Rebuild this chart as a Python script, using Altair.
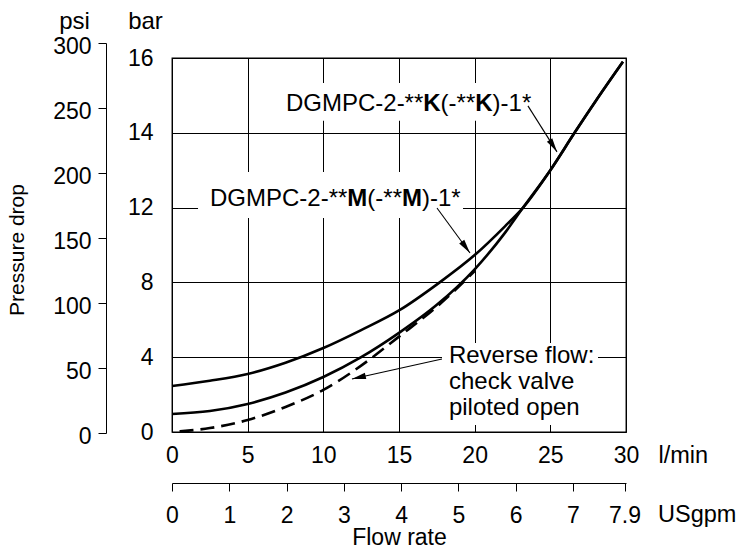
import altair as alt
import pandas as pd

# ---------------- data (flow in l/min, pressure drop in bar as read on the printed bar scale)
m_flow = [0, 2.5, 5, 7.5, 10, 12.5, 15, 17.6, 20, 22, 23.2, 25, 26.6, 28, 29.8]
m_bar = [2.46, 2.74, 3.10, 3.70, 4.49, 5.45, 6.5, 7.95, 9.46, 11.0, 12.0, 13.0, 14.0, 14.85, 15.9]
k_flow = [0, 2.5, 5, 7.5, 10, 12.5, 15, 17.5, 20, 22, 23.2, 25, 26.6, 28, 29.8]
k_bar = [0.96, 1.12, 1.50, 2.11, 2.94, 4.0, 5.3, 6.8, 8.7, 10.65, 12.0, 13.0, 14.0, 14.85, 15.9]
r_flow = [0.5, 2.5, 5, 7.5, 10, 12.5, 15, 17.5, 20]
r_bar = [0.03, 0.21, 0.64, 1.34, 2.25, 3.55, 5.1, 6.7, 8.6]

lmin_ticks = [0, 5, 10, 15, 20, 25, 30]
bar_ticks = [0, 4, 8, 12, 14, 16]
psi_ticks = [0, 50, 100, 150, 200, 250, 300]
gpm_ticks = [0, 1, 2, 3, 4, 5, 6, 7, 7.9]
LMIN_PER_GPM = 3.785

# annotations (data units)
label_parts = [["DGMPC-2-**", "K", "(-**", "K", ")-1*"],
               ["DGMPC-2-**", "M", "(-**", "M", ")-1*"]]
label_x = [7.53, 2.51]
label_bar = [14.58, 12.05]
rev_lines = ["Reverse flow:", "check valve", "piloted open"]
rev_x = [18.30, 18.30, 18.30]
rev_bar = [3.69, 2.30, 0.91]
arrow_x1 = [23.52, 17.51, 17.84]
arrow_b1 = [14.72, 11.98, 3.90]
arrow_x2 = [25.44, 19.69, 11.89]
arrow_b2 = [13.49, 9.57, 2.83]
box_x1 = [7.14, 1.72, 17.84]
box_x2 = [23.99, 19.23, 28.15]
box_b1 = [14.32, 11.44, 0.37]
box_b2 = [15.33, 12.95, 4.76]

# ---------------- styles
arrow_angle = [148, 144, 257]
FS = 24
LFS = 23
W, H = 454, 374


def to_pos(b):
    return b / 4 if b <= 12 else 3 + (b - 12) / 2


POS = "datum.{f} <= 12 ? datum.{f} / 4 : 3 + (datum.{f} - 12) / 2"

xs = alt.Scale(domain=[0, 30], nice=False, zero=False)
ys = alt.Scale(domain=[0, 5], nice=False, zero=False)
x_axis = alt.Axis(values=lmin_ticks, grid=True, gridColor="black", gridWidth=1, gridOpacity=1,
                  ticks=False, tickSize=0, domain=False, labelFontSize=LFS, labelPadding=30,
                  labelBaseline="alphabetic", labelFlush=False, labelOverlap=False,
                  title="l/min", titleX=486, titleY=30, titleAlign="left",
                  titleBaseline="alphabetic", titleAngle=0, titleFontSize=23.5)
y_axis = alt.Axis(values=[to_pos(b) for b in bar_ticks], grid=True, gridColor="black",
                  gridWidth=1, gridOpacity=1, ticks=False, tickSize=0, domain=False,
                  labelFontSize=LFS, labelPadding=19, labelBaseline="middle", labelOverlap=False,
                  labelExpr="datum.value <= 3 ? format(datum.value * 4, 'd') : format(12 + (datum.value - 3) * 2, 'd')",
                  title="bar", titleAngle=0, titleX=-27, titleY=-30, titleAlign="center",
                  titleBaseline="alphabetic", titleFontSize=FS)
X = alt.X("x:Q", scale=xs, axis=x_axis)
Y = alt.Y("p:Q", scale=ys, axis=y_axis)

curves = pd.concat([
    pd.DataFrame({"x": m_flow, "bar": m_bar, "s": "M"}),
    pd.DataFrame({"x": k_flow, "bar": k_bar, "s": "K"}),
])
rev = pd.DataFrame({"x": r_flow, "bar": r_bar})
boxes = pd.DataFrame({"x": box_x1, "x2": box_x2, "b1": box_b1, "b2": box_b2})
arrows = pd.DataFrame({"x": arrow_x1, "x2": arrow_x2, "b1": arrow_b1, "b2": arrow_b2,
                       "ang": arrow_angle})
revtxt = pd.DataFrame({"x": rev_x, "bar": rev_bar, "t": rev_lines})

box_layer = alt.Chart(boxes).mark_rect(fill="white", stroke=None).transform_calculate(
    p=POS.format(f="b1"), p2=POS.format(f="b2")
).encode(x=X, x2="x2:Q", y=Y, y2="p2:Q")

solid = alt.Chart(curves).mark_line(color="black", strokeWidth=2.6, interpolate="monotone").transform_calculate(
    p=POS.format(f="bar")
).encode(x=X, y=Y, detail="s:N")

dashed = alt.Chart(rev).mark_line(color="black", strokeWidth=2.6, interpolate="monotone",
                                  strokeDash=[14, 7]).transform_calculate(
    p=POS.format(f="bar")
).encode(x=X, y=Y)

rules = alt.Chart(arrows).mark_rule(color="black", strokeWidth=1.1).transform_calculate(
    p=POS.format(f="b1"), p2=POS.format(f="b2")
).encode(x=X, x2="x2:Q", y=Y, y2="p2:Q")

heads = alt.Chart(arrows).mark_point(shape="M0,0 L-0.45,2 L0.45,2 Z", filled=True, fill="black",
                                     opacity=1, size=196, strokeWidth=0).transform_calculate(
    p=POS.format(f="b2"), xh="datum.x2"
).encode(x=alt.X("xh:Q", scale=xs, axis=x_axis), y=Y, angle=alt.Angle("ang:Q", scale=None))

rev_text = alt.Chart(revtxt).mark_text(align="left", baseline="alphabetic", fontSize=FS,
                                       color="black").transform_calculate(
    p=POS.format(f="bar")
).encode(x=X, y=Y, text="t:N")

# Arial / Liberation Sans advance widths (em units) for label segments
CW = {"D": .722, "G": .778, "M": .833, "P": .667, "C": .722, "-": .333, "2": .556,
      "*": .389, "(": .333, ")": .333, "1": .556, "K": .667}
CWB = {"M": .833, "K": .722}

seg_layers = []
for parts, lx, lb in zip(label_parts, label_x, label_bar):
    off = 0.0
    for i, seg in enumerate(parts):
        bold = i in (1, 3)
        df = pd.DataFrame({"x": [lx], "bar": [lb], "t": [seg]})
        seg_layers.append(
            alt.Chart(df).mark_text(align="left", baseline="alphabetic", fontSize=FS, dx=off,
                                    fontWeight="bold" if bold else "normal", color="black")
            .transform_calculate(p=POS.format(f="bar"))
            .encode(x=X, y=Y, text="t:N")
        )
        off += sum((CWB if bold else CW)[c] for c in seg) * FS

pdrop = alt.Chart(pd.DataFrame({"t": ["Pressure drop"]})).mark_text(
    angle=270, fontSize=21, align="center", baseline="middle", color="black").encode(
    x=alt.value(-154), y=alt.value(192), text="t:N")
usgpm = alt.Chart(pd.DataFrame({"t": ["USgpm"]})).mark_text(
    align="left", baseline="alphabetic", fontSize=23.5, color="black").encode(
    x=alt.value(486), y=alt.value(464), text="t:N")

main = alt.layer(box_layer, solid, dashed, rules, heads, rev_text, *seg_layers, pdrop, usgpm)

psi_layer = alt.Chart(pd.DataFrame({"psi": psi_ticks})).mark_point(opacity=0).encode(
    y=alt.Y("psi:Q", scale=alt.Scale(domain=[0, 300], range=[375, -15], nice=False),
            axis=alt.Axis(orient="left", offset=66, values=psi_ticks, tickSize=8,
                          tickColor="black", domain=True, domainColor="black", domainWidth=1,
                          grid=False, labelPadding=7, labelFontSize=LFS, labelBaseline="middle",
                          labelOffset=3, labelOverlap=False,
                          title="psi", titleAngle=0, titleX=-32, titleY=-30, titleAlign="center",
                          titleBaseline="alphabetic", titleFontSize=FS))
)

gpm_layer = alt.Chart(pd.DataFrame({"gpm": gpm_ticks})).mark_point(opacity=0).encode(
    x=alt.X("gpm:Q", scale=alt.Scale(domain=[0, 30 / LMIN_PER_GPM], nice=False, zero=True),
            axis=alt.Axis(orient="bottom", offset=51, values=gpm_ticks, tickSize=8,
                          tickColor="black", domain=True, domainColor="black", domainWidth=1,
                          grid=False, labelPadding=31, labelFontSize=LFS,
                          labelExpr="datum.value + ''",
                          labelBaseline="alphabetic", labelFlush=False, labelOverlap=False,
                          title="Flow rate", titleX=227, titleY=61, titleAlign="center",
                          titleBaseline="alphabetic", titleFontSize=23))
)

chart = alt.layer(main, psi_layer, gpm_layer).resolve_scale(
    x="independent", y="independent"
).properties(
    width=W, height=H,
    padding={"left": 164, "top": 50, "right": 111, "bottom": 115},
    autosize=alt.AutoSizeParams(type="none"),
).configure(font="Liberation Sans").configure_axis(
    labelColor="black", titleColor="black", titleFontWeight="normal",
    labelFont="Liberation Sans", titleFont="Liberation Sans"
).configure_view(stroke="black", strokeWidth=1.3)

chart.save("out.html", embed_options={"renderer": "svg", "actions": False})
